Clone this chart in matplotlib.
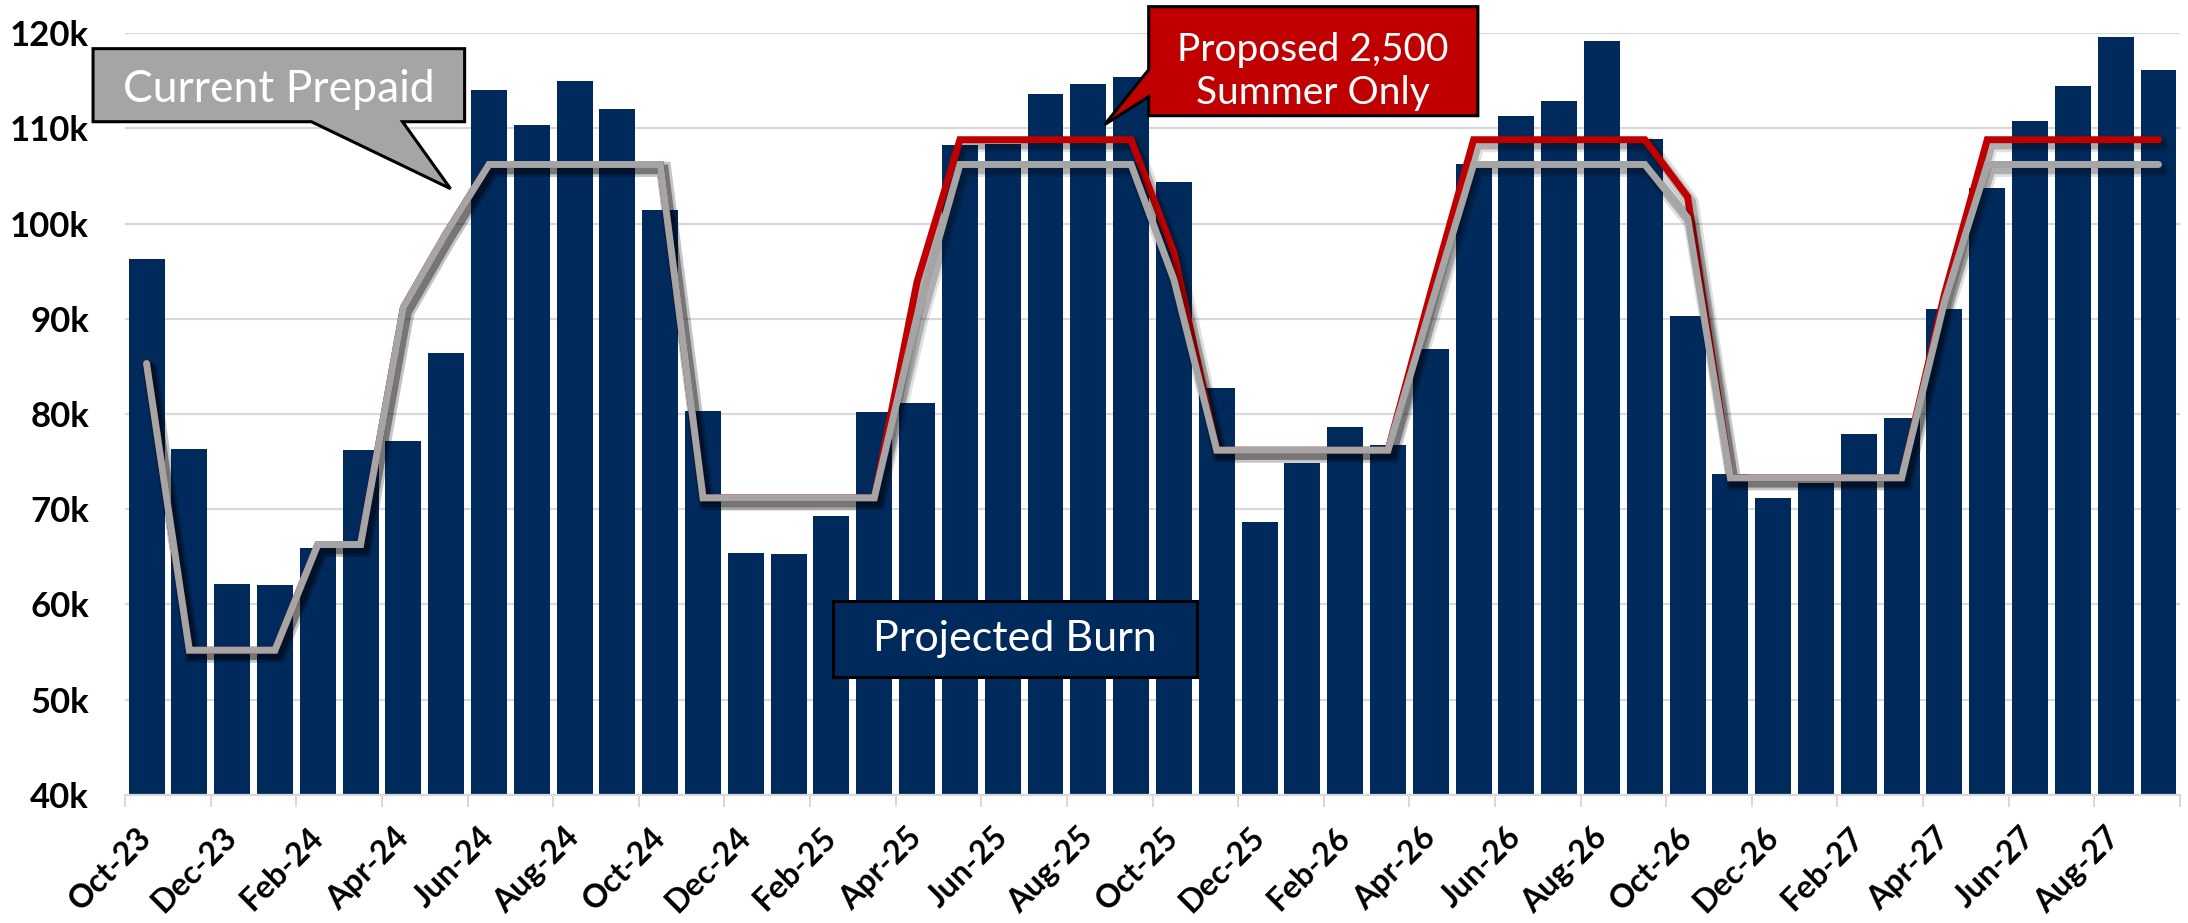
import matplotlib
matplotlib.use("Agg")
import matplotlib.pyplot as plt
from matplotlib import patheffects as pe
from matplotlib.patches import Polygon
from matplotlib.ticker import FixedLocator

plt.rcParams['font.family'] = ['Lato', 'DejaVu Sans']

# Monthly categories
months = ['Oct-23', 'Nov-23', 'Dec-23', 'Jan-24', 'Feb-24', 'Mar-24', 'Apr-24', 'May-24',
          'Jun-24', 'Jul-24', 'Aug-24', 'Sep-24', 'Oct-24', 'Nov-24', 'Dec-24', 'Jan-25',
          'Feb-25', 'Mar-25', 'Apr-25', 'May-25', 'Jun-25', 'Jul-25', 'Aug-25', 'Sep-25',
          'Oct-25', 'Nov-25', 'Dec-25', 'Jan-26', 'Feb-26', 'Mar-26', 'Apr-26', 'May-26',
          'Jun-26', 'Jul-26', 'Aug-26', 'Sep-26', 'Oct-26', 'Nov-26', 'Dec-26', 'Jan-27',
          'Feb-27', 'Mar-27', 'Apr-27', 'May-27', 'Jun-27', 'Jul-27', 'Aug-27', 'Sep-27']

# Projected burn (thousands)
projected_burn = [96.3, 76.3, 62.1, 62.0, 65.9, 76.2, 77.2, 86.4, 114.0, 110.3, 115.0, 112.0,
                  101.4, 80.3, 65.4, 65.3, 69.3, 80.2, 81.2, 108.2, 108.4, 113.6, 114.6, 115.4,
                  104.4, 82.7, 68.7, 74.9, 78.6, 76.7, 86.8, 106.2, 111.3, 112.9, 119.2, 108.9,
                  90.3, 73.7, 71.2, 72.8, 77.9, 79.6, 91.0, 103.7, 110.8, 114.4, 119.6, 116.1]

# Current prepaid level (thousands)
current_prepaid = [85.3, 55.2, 55.2, 55.2, 66.3, 66.3, 91.2, 99.0, 106.2, 106.2, 106.2, 106.2,
                   106.2, 71.2, 71.2, 71.2, 71.2, 71.2, 90.3, 106.2, 106.2, 106.2, 106.2, 106.2,
                   94.1, 76.2, 76.2, 76.2, 76.2, 76.2, 91.3, 106.2, 106.2, 106.2, 106.2, 106.2,
                   100.6, 73.3, 73.3, 73.3, 73.3, 73.3, 91.8, 106.2, 106.2, 106.2, 106.2, 106.2]

# Proposed 2,500 summer-only level (thousands)
proposed_summer = [85.3, 55.2, 55.2, 55.2, 66.3, 66.3, 91.2, 99.0, 106.2, 106.2, 106.2, 106.2,
                   106.2, 71.2, 71.2, 71.2, 71.2, 71.2, 93.9, 108.8, 108.8, 108.8, 108.8, 108.8,
                   96.9, 76.2, 76.2, 76.2, 76.2, 76.2, 92.8, 108.8, 108.8, 108.8, 108.8, 108.8,
                   102.8, 73.3, 73.3, 73.3, 73.3, 73.3, 92.6, 108.8, 108.8, 108.8, 108.8, 108.8]

y_ticks = [40, 50, 60, 70, 80, 90, 100, 110, 120]
y_tick_labels = ['40k', '50k', '60k', '70k', '80k', '90k', '100k', '110k', '120k']

NAVY = '#002A5C'
RED = '#C00000'
GREY = '#A5A5A5'
GRID = '#D9D9D9'

fig = plt.figure(figsize=(21.88, 9.23), dpi=100)
ax = fig.add_axes([0.0572, 0.1387, 0.9391, 0.8255])

x = list(range(len(months)))
ax.bar(x, projected_burn, width=0.84, color=NAVY, zorder=2)

lw = 5.0
def shadowed(width):
    return [pe.SimpleLineShadow(offset=(2.5, -3.5), shadow_color='black', alpha=0.12, linewidth=width + 6),
            pe.SimpleLineShadow(offset=(2.5, -3.5), shadow_color='black', alpha=0.22, linewidth=width + 2),
            pe.Normal()]

ax.plot(x, proposed_summer, color=RED, lw=lw, solid_capstyle='round', solid_joinstyle='miter',
        zorder=3, path_effects=shadowed(lw))
ax.plot(x, current_prepaid, color=GREY, lw=lw, solid_capstyle='round', solid_joinstyle='miter',
        zorder=4, path_effects=shadowed(lw))

ax.set_xlim(-0.5, len(months) - 0.5)
ax.set_ylim(40, 120)

ax.set_yticks(y_ticks)
ax.set_yticklabels(y_tick_labels)
ax.yaxis.grid(True, color=GRID, lw=1.6, zorder=0)
ax.set_axisbelow(True)

ax.set_xticks(x[::2])
ax.set_xticklabels(months[::2], rotation=45, ha='right', va='center', rotation_mode='anchor')
ax.xaxis.set_minor_locator(FixedLocator([i - 0.5 for i in range(0, len(months) + 1, 2)]))
ax.tick_params(axis='x', which='major', length=0, pad=27, labelsize=23)
ax.tick_params(axis='x', which='minor', length=8.5, width=1.5, color=GRID)
ax.tick_params(axis='y', length=0, pad=26, labelsize=25)
for lab in ax.get_xticklabels() + ax.get_yticklabels():
    lab.set_fontweight('bold')

for side in ('top', 'right', 'left'):
    ax.spines[side].set_visible(False)
ax.spines['bottom'].set_color(GRID)
ax.spines['bottom'].set_linewidth(1.6)
ax.spines['bottom'].set_zorder(5)

# Callout: Current Prepaid
prepaid_box = [(-1.25, 118.36), (7.43, 118.36), (7.43, 110.69), (5.98, 110.69),
               (7.10, 103.66), (3.85, 110.69), (-1.25, 110.69)]
ax.add_patch(Polygon(prepaid_box, closed=True, facecolor=GREY, edgecolor='black',
                     lw=2.2, zorder=6, clip_on=False, joinstyle='miter'))
ax.text(3.09, 114.1, 'Current Prepaid', color='white', fontsize=32,
        ha='center', va='center', zorder=7, clip_on=False)

# Callout: Proposed 2,500 Summer Only
proposed_box = [(23.41, 122.77), (31.10, 122.77), (31.10, 111.32), (23.41, 111.32),
                (23.41, 113.32), (22.38, 110.38), (23.41, 116.15)]
ax.add_patch(Polygon(proposed_box, closed=True, facecolor=RED, edgecolor='black',
                     lw=2.2, zorder=6, clip_on=False, joinstyle='miter'))
ax.text(27.25, 116.0, 'Proposed 2,500\nSummer Only', color='white', fontsize=28,
        ha='center', va='center', linespacing=1.25, zorder=7, clip_on=False)

# Label box: Projected Burn
burn_box = [(16.04, 60.38), (24.53, 60.38), (24.53, 52.39), (16.04, 52.39)]
ax.add_patch(Polygon(burn_box, closed=True, facecolor=NAVY, edgecolor='black',
                     lw=2.2, zorder=6, clip_on=False))
ax.text(20.28, 56.4, 'Projected Burn', color='white', fontsize=31,
        ha='center', va='center', zorder=7)

fig.savefig('out.png', dpi=100)
